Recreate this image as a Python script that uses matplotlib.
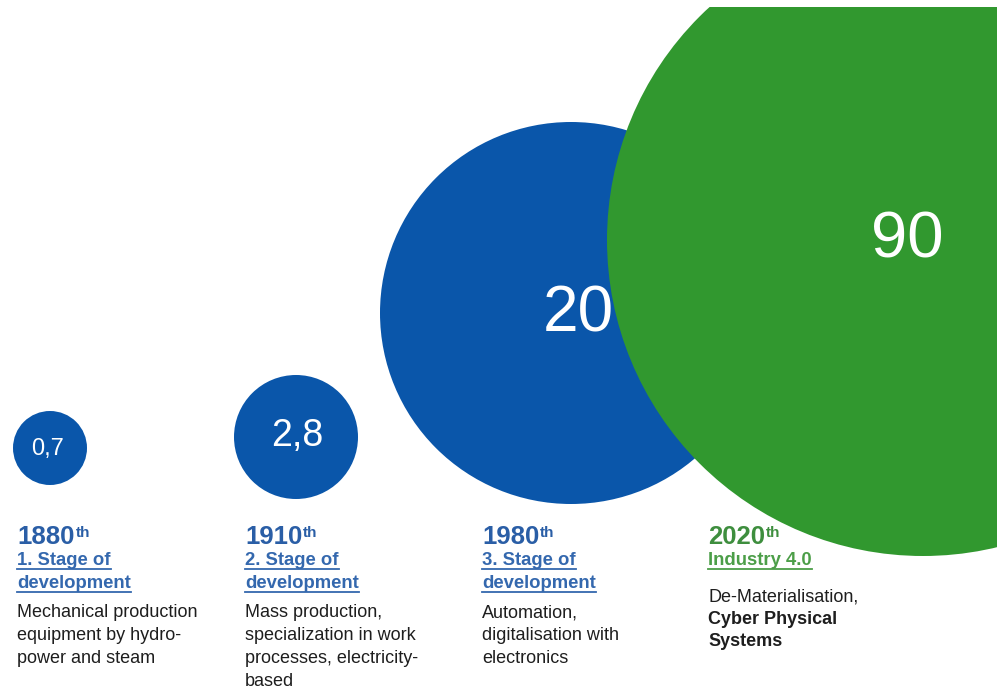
import matplotlib
matplotlib.use('Agg')
import matplotlib.pyplot as plt
from matplotlib.patches import Circle, Rectangle

plt.rcParams['font.family'] = ['Liberation Sans', 'DejaVu Sans']

# data
values = [0.7, 2.8, 20, 90]
value_labels = ['0,7', '2,8', '20', '90']
years = ['1880', '1910', '1980', '2020']
stages = [['1. Stage of', 'development'],
          ['2. Stage of', 'development'],
          ['3. Stage of', 'development'],
          ['Industry 4.0']]
descriptions = [['Mechanical production', 'equipment by hydro-', 'power and steam'],
                ['Mass production,', 'specialization in work', 'processes, electricity-', 'based'],
                ['Automation,', 'digitalisation with', 'electronics'],
                ['De-Materialisation,', 'Cyber Physical', 'Systems']]

# layout (pixel units, y down)
W, H = 997, 691
centers = [(50, 448), (296, 437), (571, 313), (923, 240)]
radii = [37, 62, 191, 316]
label_pos = [(48, 449), (297, 436), (578, 314), (907, 240)]
label_sizes = [17, 27, 46, 47]
fill_colors = ['#0A56AA', '#0A56AA', '#0A56AA', '#31982F']
col_x = [17, 245, 482, 708]
year_colors = ['#2A5EA6', '#2A5EA6', '#2A5EA6', '#3E8E3E']
stage_colors = ['#3468AE', '#3468AE', '#3468AE', '#4C9E48']
bold_lines = [[], [], [], [1, 2]]

fig = plt.figure(figsize=(W / 100, H / 100), dpi=100)
ax = fig.add_axes([0, 0, 1, 1])
ax.set_xlim(0, W)
ax.set_ylim(H, 0)
ax.axis('off')
renderer = fig.canvas.get_renderer()
inv = ax.transData.inverted()


def extent(t):
    bb = t.get_window_extent(renderer)
    (x0, y0), (x1, y1) = inv.transform([(bb.x0, bb.y0), (bb.x1, bb.y1)])
    return x0, x1


# bubbles
clip = Rectangle((0, 7), W, H - 7, transform=ax.transData, visible=False)
ax.add_patch(clip)
for i, v in enumerate(values):
    c = Circle(centers[i], radii[i], facecolor=fill_colors[i], edgecolor='none', zorder=2 + i * 0.1)
    ax.add_patch(c)
    c.set_clip_path(clip)
    ax.text(label_pos[i][0], label_pos[i][1], value_labels[i], color='white',
            fontsize=label_sizes[i], ha='center', va='center', zorder=5)

# text columns
for i in range(len(years)):
    x = col_x[i]
    t = ax.text(x, 544, years[i], color=year_colors[i], fontsize=18.5,
                fontweight='bold', va='baseline', zorder=1)
    x0, x1 = extent(t)
    ax.text(x1 + 1, 526, 'th', color=year_colors[i], fontsize=11,
            fontweight='bold', va='top', zorder=1)

    y = 565
    for line in stages[i]:
        s = ax.text(x, y, line, color=stage_colors[i], fontsize=13.3,
                    fontweight='bold', va='baseline', zorder=1)
        x0, x1 = extent(s)
        ax.plot([x0, x1], [y + 4, y + 4], color=stage_colors[i], lw=1.3, zorder=1)
        y += 23

    y = 617 if len(stages[i]) > 1 else 602
    step = 23 if len(stages[i]) > 1 else 22
    for j, line in enumerate(descriptions[i]):
        ax.text(x, y, line, color='#1E1E1E', fontsize=13,
                fontweight='bold' if j in bold_lines[i] else 'normal',
                va='baseline', zorder=1)
        y += step

fig.savefig('out.png', dpi=100)
